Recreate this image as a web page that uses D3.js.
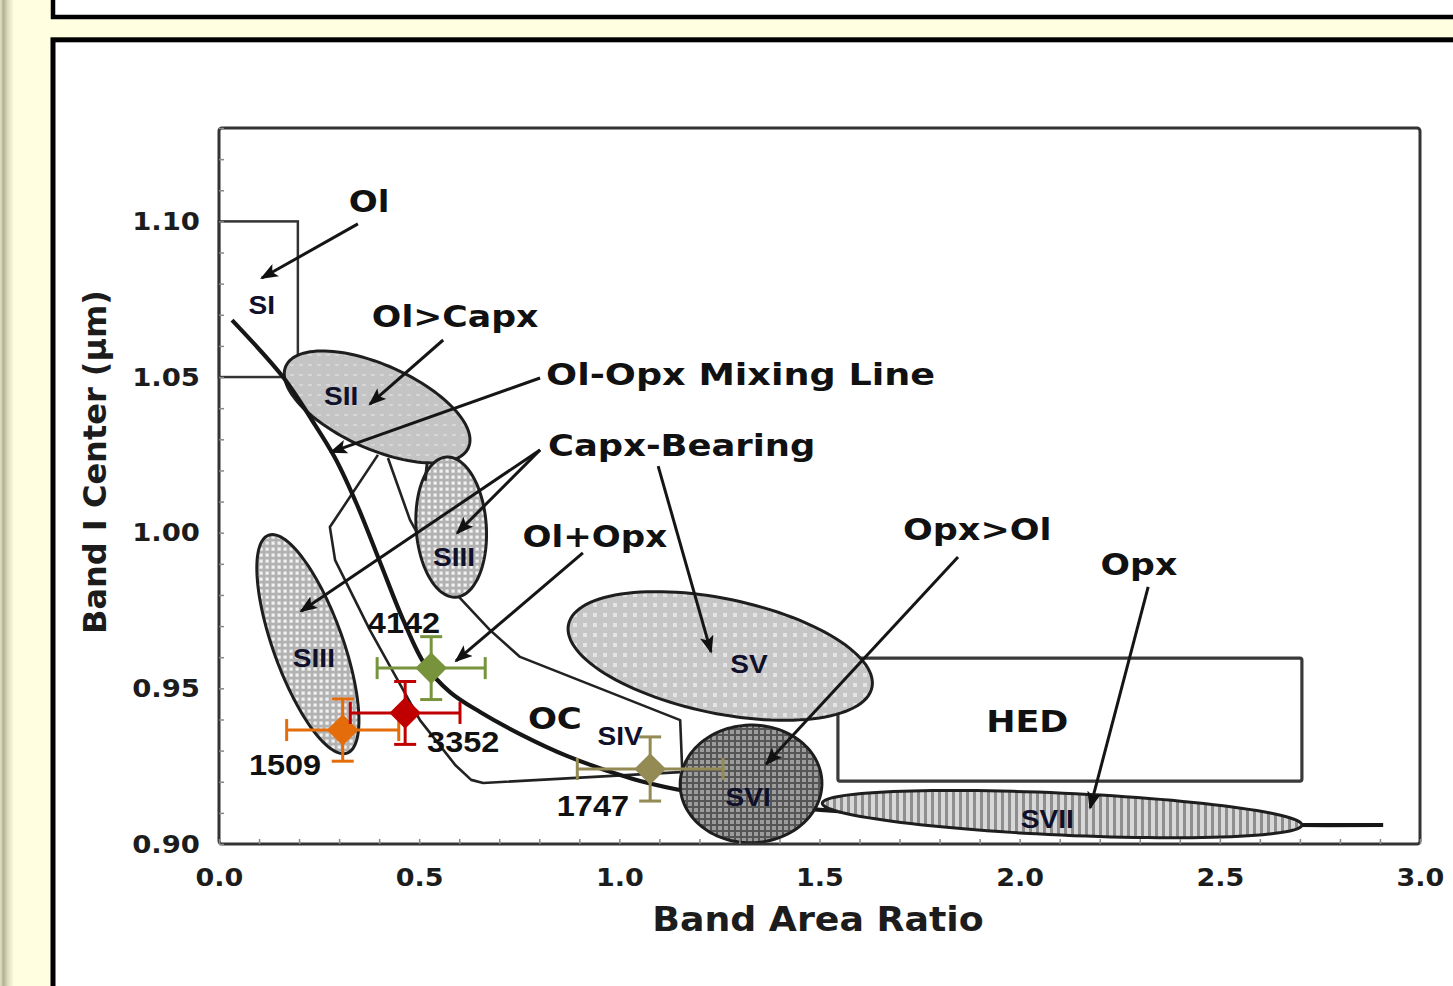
<!DOCTYPE html>
<html>
<head>
<meta charset="utf-8">
<script src="https://cdn.jsdelivr.net/npm/d3@7"></script>
<style>
  html, body { margin: 0; padding: 0; background: #fffee0; }
  svg { display: block; }
</style>
</head>
<body>
<svg id="chart" width="1453" height="986"></svg>
<script>
// ---------------- data ----------------
const xTickValues = [0, 0.5, 1.0, 1.5, 2.0, 2.5, 3.0];
const yTickValues = [0.90, 0.95, 1.00, 1.05, 1.10];

// asteroid measurements (Band Area Ratio vs Band I center)
const asteroidIds      = ["1747", "1509", "3352", "4142"];
const bandAreaRatio    = [1.077, 0.309, 0.465, 0.530];
const bandAreaRatioErr = [0.182, 0.140, 0.137, 0.135];
const bandICenter      = [0.9241, 0.9366, 0.9421, 0.9565];
const bandICenterErr   = [0.0103, 0.0100, 0.0101, 0.0101];
const asteroidColors   = ["#948a54", "#e46c0a", "#c00000", "#77933c"];

// S-type subtype fields drawn as ellipses: centre, end of major axis, minor/major ratio
const fieldNames  = ["SII", "SIII", "SIII", "SV", "SVI", "SVII"];
const fieldCx     = [0.395, 0.580, 0.222, 1.252, 1.329, 2.106];
const fieldCy     = [1.0404, 1.0018, 0.9642, 0.9604, 0.9193, 0.9096];
const fieldAxisX  = [0.623, 0.592, 0.320, 1.631, 1.506, 2.705];
const fieldAxisY  = [1.0273, 0.9793, 0.9292, 0.9503, 0.9199, 0.9061];
const fieldRatio  = [0.42, 0.50, 0.30, 0.37, 0.83, 0.0875];

// olivine-orthopyroxene mixing line
const mixingX = [0.0325, 0.160, 0.232, 0.290, 0.345, 0.402, 0.460, 0.515, 0.577, 0.652, 0.752, 0.869, 1.034, 1.152, 1.327, 1.701, 2.201, 2.700, 2.908];
const mixingY = [1.0683, 1.0500, 1.0362, 1.0240, 1.0089, 0.9906, 0.9720, 0.9575, 0.9488, 0.9424, 0.9353, 0.9283, 0.9209, 0.9173, 0.9132, 0.9093, 0.9071, 0.9061, 0.9061];

// boundaries of the Ol+Opx / OC band
const lowerBoundX = [0.397, 0.277, 0.290, 0.377, 0.502, 0.590, 0.630, 0.660, 1.152];
const lowerBoundY = [1.0250, 1.0018, 0.9912, 0.9687, 0.9398, 0.9254, 0.9206, 0.9196, 0.9231];
const upperBoundX = [0.422, 0.477, 0.560, 0.677, 0.752, 1.152, 1.157];
const upperBoundY = [1.0240, 1.0041, 0.9848, 0.9687, 0.9601, 0.9398, 0.9240];

// rectangular fields: SI (olivine) and HED
const siBox  = { x0: 0.0, x1: 0.197, y0: 1.05, y1: 1.10 };
const hedBox = { x0: 1.546, x1: 2.705, y0: 0.9202, y1: 0.9597 };

// ---------------- layout ----------------
const W = 1453, H = 986;
const svg = d3.select("#chart");
const x = d3.scaleLinear().domain([0, 3]).range([219, 1420]);
const y = d3.scaleLinear().domain([0.90, 1.13]).range([844, 128]);

const defs = svg.append("defs");

// page edge shading
const edge = defs.append("linearGradient").attr("id", "edge").attr("x1", 0).attr("x2", 1).attr("y1", 0).attr("y2", 0);
[["0", "#e4e3c6"], ["0.25", "#b3b295"], ["0.55", "#dcdbbd"], ["1", "#fffee0"]]
  .forEach(([o, c]) => edge.append("stop").attr("offset", o).attr("stop-color", c));

// fill patterns for the fields
function pattern(id, w, h, build) {
  const p = defs.append("pattern").attr("id", id).attr("patternUnits", "userSpaceOnUse")
    .attr("width", w).attr("height", h);
  build(p);
}
pattern("pSII", 9, 10, p => {
  p.append("rect").attr("width", 9).attr("height", 10).attr("fill", "#c4c4c4");
  p.append("rect").attr("x", 2).attr("y", 4).attr("width", 4).attr("height", 2).attr("fill", "#d6d6d6");
});
pattern("pSIII", 6, 6, p => {
  p.append("rect").attr("width", 6).attr("height", 6).attr("fill", "#b2b2b2");
  p.append("rect").attr("x", 1.5).attr("y", 1.5).attr("width", 3.2).attr("height", 3.2).attr("fill", "#f2f2f2");
});
pattern("pSV", 10, 10, p => {
  p.append("rect").attr("width", 10).attr("height", 10).attr("fill", "#c6c6c6");
  p.append("rect").attr("x", 3).attr("y", 3).attr("width", 4).attr("height", 4).attr("fill", "#e4e4e4");
});
pattern("pSVI", 6, 6, p => {
  p.append("rect").attr("width", 6).attr("height", 6).attr("fill", "#9c9c9c");
  p.append("rect").attr("x", 0).attr("y", 2).attr("width", 6).attr("height", 2).attr("fill", "#555");
  p.append("rect").attr("x", 2).attr("y", 0).attr("width", 2).attr("height", 6).attr("fill", "#555");
});
pattern("pSVII", 7, 7, p => {
  p.append("rect").attr("width", 7).attr("height", 7).attr("fill", "#d8d8d8");
  p.append("rect").attr("x", 0).attr("y", 0).attr("width", 3).attr("height", 7).attr("fill", "#8e8e8e");
});
const fieldFill = ["url(#pSII)", "url(#pSIII)", "url(#pSIII)", "url(#pSV)", "url(#pSVI)", "url(#pSVII)"];

// arrow head
defs.append("marker").attr("id", "head").attr("markerUnits", "userSpaceOnUse")
  .attr("viewBox", "0 0 18 14").attr("markerWidth", 18).attr("markerHeight", 14)
  .attr("refX", 16).attr("refY", 7).attr("orient", "auto")
  .append("path").attr("d", "M0,0 L18,7 L0,14 L4,7 Z").attr("fill", "#111");

// page background and panels
svg.append("rect").attr("width", W).attr("height", H).attr("fill", "#fffee0");
svg.append("rect").attr("x", 0).attr("width", 14).attr("height", H).attr("fill", "url(#edge)");
svg.append("rect").attr("x", 53).attr("y", -10).attr("width", 1420).attr("height", 27)
  .attr("fill", "#fff").attr("stroke", "#000").attr("stroke-width", 4.5);
svg.append("rect").attr("x", 53).attr("y", 39.8).attr("width", 1420).attr("height", 1000)
  .attr("fill", "#fff").attr("stroke", "#000").attr("stroke-width", 5);

const plot = svg.append("g");

// text helper (slightly wide lettering)
function label(g, text, px, py, size, family, anchor, sx) {
  return g.append("text")
    .attr("transform", `translate(${px},${py}) scale(${sx},1)`)
    .attr("text-anchor", anchor)
    .attr("font-family", family)
    .attr("font-weight", "bold")
    .attr("font-size", size)
    .attr("fill", "#111")
    .text(text);
}

// SI olivine box
plot.append("rect")
  .attr("x", x(siBox.x0)).attr("y", y(siBox.y1))
  .attr("width", x(siBox.x1) - x(siBox.x0)).attr("height", y(siBox.y0) - y(siBox.y1))
  .attr("fill", "none").attr("stroke", "#333").attr("stroke-width", 2.5);

// band boundaries
const lineXY = d3.line().x(d => x(d[0])).y(d => y(d[1]));
plot.append("path").datum(d3.zip(lowerBoundX, lowerBoundY)).attr("d", lineXY)
  .attr("fill", "none").attr("stroke", "#222").attr("stroke-width", 2.6).attr("stroke-linejoin", "round");
plot.append("path").datum(d3.zip(upperBoundX, upperBoundY)).attr("d", lineXY)
  .attr("fill", "none").attr("stroke", "#222").attr("stroke-width", 2.6).attr("stroke-linejoin", "round");

// HED box
plot.append("rect")
  .attr("x", x(hedBox.x0)).attr("y", y(hedBox.y1))
  .attr("width", x(hedBox.x1) - x(hedBox.x0)).attr("height", y(hedBox.y0) - y(hedBox.y1))
  .attr("fill", "none").attr("stroke", "#3a3a3a").attr("stroke-width", 3.2).attr("rx", 2);

// ellipse outline from centre / axis end in data units
function ellipse(i) {
  const c = [x(fieldCx[i]), y(fieldCy[i])];
  const e = [x(fieldAxisX[i]), y(fieldAxisY[i])];
  const ux = e[0] - c[0], uy = e[1] - c[1];
  const vx = -uy * fieldRatio[i], vy = ux * fieldRatio[i];
  return d3.range(120).map(k => {
    const t = k / 120 * 2 * Math.PI;
    return [c[0] + ux * Math.cos(t) + vx * Math.sin(t), c[1] + uy * Math.cos(t) + vy * Math.sin(t)];
  });
}
const closed = d3.line().curve(d3.curveLinearClosed);
function drawField(i) {
  plot.append("path").attr("d", closed(ellipse(i)))
    .attr("fill", fieldFill[i]).attr("stroke", "#1e1e1e").attr("stroke-width", 3);
}
[0, 1, 2, 3].forEach(drawField);

// short edge segment above the small SIII field
plot.append("path").datum([[0.520, 1.0224], [0.515, 1.0167]]).attr("d", lineXY)
  .attr("stroke", "#222").attr("stroke-width", 3);

// Ol-Opx mixing line
plot.append("path").datum(d3.zip(mixingX, mixingY))
  .attr("d", d3.line().x(d => x(d[0])).y(d => y(d[1])).curve(d3.curveCatmullRom.alpha(0.5)))
  .attr("fill", "none").attr("stroke", "#161616").attr("stroke-width", 4.2);

[4, 5].forEach(drawField);

// pointer arrows
const arrows = [
  [[0.347, 1.0992], [0.107, 1.0818]],
  [[0.560, 1.0619], [0.377, 1.0413]],
  [[0.802, 1.0497], [0.280, 1.0259]],
  [[0.802, 1.0266], [0.205, 0.9748]],
  [[0.802, 1.0266], [0.595, 0.9999]],
  [[1.097, 1.0214], [1.229, 0.9617]],
  [[0.909, 0.9935], [0.592, 0.9588]],
  [[1.846, 0.9922], [1.367, 0.9257]],
  [[2.321, 0.9826], [2.176, 0.9116]]
];
arrows.forEach(a => {
  plot.append("path").datum(a).attr("d", lineXY)
    .attr("stroke", "#151515").attr("stroke-width", 3).attr("fill", "none")
    .attr("marker-end", "url(#head)");
});

// mineralogy annotations: text, x, y, anchor, horizontal stretch
const bigFont = "'DejaVu Sans', Verdana, sans-serif";
const notes = [
  ["Ol", 0.375, 1.1030, "middle", 1.1],
  ["Ol>Capx", 0.590, 1.0661, "middle", 1.12],
  ["Ol-Opx Mixing Line", 0.817, 1.0474, "start", 1.18],
  ["Capx-Bearing", 0.822, 1.0246, "start", 1.14],
  ["Ol+Opx", 0.939, 0.9954, "middle", 1.1],
  ["Opx>Ol", 1.894, 0.9977, "middle", 1.13],
  ["Opx", 2.298, 0.9864, "middle", 1.12],
  ["OC", 0.839, 0.9370, "middle", 1.1],
  ["HED", 2.019, 0.9360, "middle", 1.13]
];
notes.forEach(n => label(plot, n[0], x(n[1]), y(n[2]), 31, bigFont, n[3], n[4]));

// subtype labels
const smallFont = "'Liberation Sans', Arial, sans-serif";
const subLabels = [
  ["SI", 0.107, 1.0703], ["SII", 0.305, 1.0410], ["SIII", 0.587, 0.9893],
  ["SIII", 0.237, 0.9569], ["SV", 1.324, 0.9549], ["SVI", 1.322, 0.9122],
  ["SVII", 2.069, 0.9051], ["SIV", 1.002, 0.9318]
];
subLabels.forEach(s => label(plot, s[0], x(s[1]), y(s[2]), 26, smallFont, "middle", 1.08).attr("fill", "#10102a"));

// asteroid points with error bars
const cap = 11;
asteroidIds.forEach((id, i) => {
  const g = plot.append("g").attr("stroke", asteroidColors[i]).attr("stroke-width", 3);
  const cx = x(bandAreaRatio[i]), cy = y(bandICenter[i]);
  const xl = x(bandAreaRatio[i] - bandAreaRatioErr[i]), xr = x(bandAreaRatio[i] + bandAreaRatioErr[i]);
  const yt = y(bandICenter[i] + bandICenterErr[i]), yb = y(bandICenter[i] - bandICenterErr[i]);
  g.append("line").attr("x1", xl).attr("x2", xr).attr("y1", cy).attr("y2", cy);
  g.append("line").attr("x1", xl).attr("x2", xl).attr("y1", cy - cap).attr("y2", cy + cap);
  g.append("line").attr("x1", xr).attr("x2", xr).attr("y1", cy - cap).attr("y2", cy + cap);
  g.append("line").attr("x1", cx).attr("x2", cx).attr("y1", yt).attr("y2", yb);
  g.append("line").attr("x1", cx - cap).attr("x2", cx + cap).attr("y1", yt).attr("y2", yt);
  g.append("line").attr("x1", cx - cap).attr("x2", cx + cap).attr("y1", yb).attr("y2", yb);
  plot.append("path")
    .attr("d", d3.symbol(d3.symbolSquare, 500)())
    .attr("transform", `translate(${cx},${cy}) rotate(45)`)
    .attr("fill", asteroidColors[i]);
});
const idLabels = { "4142": [0.462, 0.9678], "3352": [0.610, 0.9296], "1509": [0.165, 0.9222], "1747": [0.934, 0.9090] };
asteroidIds.forEach(id => label(plot, id, x(idLabels[id][0]), y(idLabels[id][1]), 29, smallFont, "middle", 1.12));

// frame
plot.append("rect")
  .attr("x", x(0)).attr("y", y(1.13))
  .attr("width", x(3) - x(0)).attr("height", y(0.90) - y(1.13))
  .attr("fill", "none").attr("stroke", "#333").attr("stroke-width", 3).attr("rx", 3);

// axes: inward minor ticks, bold labels
const axisFont = "'DejaVu Sans', Verdana, sans-serif";
const gxMinor = plot.append("g").attr("transform", `translate(0,${y(0.90)})`)
  .call(d3.axisBottom(x).tickValues(d3.range(0, 30.5, 1).map(v => v / 10)).tickSize(-5).tickFormat(""));
const gyMinor = plot.append("g").attr("transform", `translate(${x(0)},0)`)
  .call(d3.axisLeft(y).tickValues(d3.range(90, 113.5, 1).map(v => v / 100)).tickSize(-5).tickFormat(""));
[gxMinor, gyMinor].forEach(g => {
  g.select(".domain").remove();
  g.selectAll("line").attr("stroke", "#8a8a8a").attr("stroke-width", 1.5);
});

const gx = plot.append("g").attr("transform", `translate(0,${y(0.90)})`)
  .call(d3.axisBottom(x).tickValues(xTickValues).tickSize(0).tickPadding(24).tickFormat(d3.format(".1f")));
const gy = plot.append("g").attr("transform", `translate(${x(0)},0)`)
  .call(d3.axisLeft(y).tickValues(yTickValues).tickSize(0).tickPadding(19).tickFormat(d3.format(".2f")));
[gx, gy].forEach(g => {
  g.select(".domain").remove();
  g.attr("font-family", axisFont).attr("font-size", 25).attr("font-weight", "bold");
  g.selectAll("text").attr("fill", "#1c1c1c");
});
gx.selectAll("text").attr("transform", "scale(1.08,1)");
gy.selectAll("text").attr("x", 0).attr("transform", "translate(-19,0) scale(1.1,1)");

// axis titles
label(plot, "Band Area Ratio", 818, 931, 33, axisFont, "middle", 1.1).attr("fill", "#1c1c1c");
plot.append("text")
  .attr("transform", `translate(106,${462}) rotate(-90)`)
  .attr("text-anchor", "middle")
  .attr("font-family", axisFont).attr("font-weight", "bold").attr("font-size", 32)
  .attr("fill", "#1c1c1c")
  .text("Band I Center (µm)");
</script>
</body>
</html>
